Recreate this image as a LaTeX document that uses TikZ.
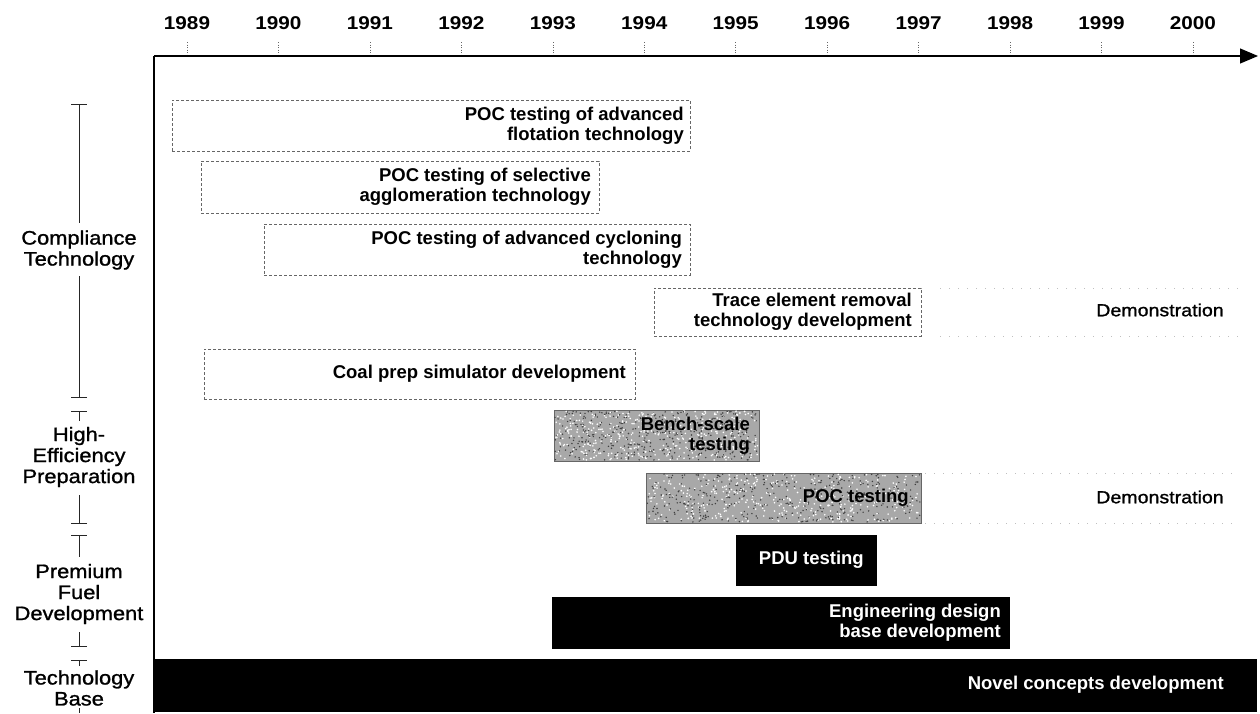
\documentclass[tikz,border=0pt]{standalone}
\usepackage{fontspec}
\setmainfont{Liberation Sans}
\newfontfamily\widefont[FakeStretch=1.12]{Liberation Sans}
\newfontfamily\widemedium[FakeStretch=1.12,FakeBold=1.2]{Liberation Sans}
\usetikzlibrary{arrows.meta}

% random grain inside a shaded bar: x0 y0 width height
\newcommand\grainfill[4]{%
  \foreach \k in {1,...,380}{%
    \fill[black!75] ({#1+#3*rnd},{#2+#4*rnd}) circle[radius=0.8];
    \fill[white] ({#1+#3*rnd},{#2+#4*rnd}) circle[radius=0.9];
  }}

\begin{document}
\begin{tikzpicture}[x=1pt,y=-1pt,
  outlinebar/.style={draw=black!60, line width=0.6pt, densely dashed, fill=white,
    anchor=north west, inner sep=0pt, outer sep=0pt},
  greybar/.style={draw=black!60, line width=0.6pt, fill=black!34,
    anchor=north west, inner sep=0pt, outer sep=0pt},
  blackbar/.style={draw=black, fill=black,
    anchor=north west, inner sep=0pt, outer sep=0pt},
  barlabel/.style={anchor=east, align=right, inner sep=0pt,
    font=\bfseries\fontsize{18.5}{20}\selectfont},
  yearlabel/.style={font=\widefont\bfseries\fontsize{18.5}{20}\selectfont, inner sep=0pt},
  grouplabel/.style={align=center, inner sep=0pt,
    font=\widemedium\fontsize{19.5}{21}\selectfont},
  demolabel/.style={inner sep=0pt, font=\widemedium\fontsize{17.5}{20}\selectfont},
  bracket/.style={line width=0.8pt, black!85},
  axis/.style={line width=1.1pt, black},
  tickmark/.style={line width=0.5pt, black!60, dotted},
  demoline/.style={line width=0.6pt, black!25, dash pattern=on 1pt off 8pt}]

\useasboundingbox (0,0) rectangle (1260,713);
\pgfmathsetseed{7}

% ---- time axis ----
\coordinate (origin) at (154,56);
\coordinate (xend) at (1258,56);
\coordinate (ybottom) at (154,713);
\foreach \yr [count=\i from 0] in {1989,...,2000}{
  \pgfmathsetmacro\xx{187+91.45*\i}
  \node[yearlabel] (year\yr) at (\xx,23) {\yr};
  \coordinate (tickT\yr) at (\xx,42);
  \coordinate (tickB\yr) at (\xx,56);
  \draw[tickmark] (tickT\yr) -- (tickB\yr);
}
\draw[axis, -{Triangle[length=18pt,width=15pt]}] (origin) -- (xend);
\draw[axis] (origin) -- (ybottom);

% ---- group labels with brackets ----
\node[grouplabel] (compliance) at (79,250) {Compliance\\Technology};
\coordinate (c1) at (79,104); \coordinate (c2) at (79,223);
\coordinate (c3) at (79,276); \coordinate (c4) at (79,398);
\draw[bracket, {Bar[width=16pt]}-] (c1) -- (c2);
\draw[bracket, -{Bar[width=16pt]}] (c3) -- (c4);

\node[grouplabel] (highEff) at (79,457) {High-\\Efficiency\\Preparation};
\coordinate (h1) at (79,411); \coordinate (h2) at (79,421);
\coordinate (h3) at (79,495); \coordinate (h4) at (79,524);
\draw[bracket, {Bar[width=16pt]}-] (h1) -- (h2);
\draw[bracket, -{Bar[width=16pt]}] (h3) -- (h4);

\node[grouplabel] (premium) at (79,594) {Premium\\Fuel\\Development};
\coordinate (p1) at (79,535); \coordinate (p2) at (79,557);
\coordinate (p3) at (79,632); \coordinate (p4) at (79,647);
\draw[bracket, {Bar[width=16pt]}-] (p1) -- (p2);
\draw[bracket, -{Bar[width=16pt]}] (p3) -- (p4);

\node[grouplabel] (techBase) at (79,688) {Technology\\Base};
\coordinate (t1) at (79,660); \coordinate (t2) at (79,666);
\coordinate (t3) at (79,708); \coordinate (t4) at (79,713);
\draw[bracket, {Bar[width=16pt]}-] (t1) -- (t2);
\draw[bracket] (t3) -- (t4);

% ---- compliance technology bars ----
\node[outlinebar, minimum width=518pt, minimum height=51pt] (flot) at (172,100) {};
\node[barlabel] (flotText) at ([xshift=-6pt]flot.east) {POC testing of advanced\\flotation technology};

\node[outlinebar, minimum width=398pt, minimum height=52pt] (aggl) at (201,161) {};
\node[barlabel] (agglText) at ([xshift=-8pt]aggl.east) {POC testing of selective\\agglomeration technology};

\node[outlinebar, minimum width=426pt, minimum height=51pt] (cycl) at (264,224) {};
\node[barlabel] (cyclText) at ([xshift=-8pt]cycl.east) {POC testing of advanced cycloning\\technology};

\node[outlinebar, minimum width=267pt, minimum height=48pt] (trace) at (654,288) {};
\node[barlabel] (traceText) at ([xshift=-9pt]trace.east) {Trace element removal\\technology development};

\node[outlinebar, minimum width=431pt, minimum height=50pt] (coal) at (204,349) {};
\node[barlabel] (coalText) at ([xshift=-9pt]coal.east) {Coal prep simulator development};

% demonstration phase after trace element work
\coordinate (d1a) at (940,288); \coordinate (d1b) at (1240,288);
\coordinate (d1c) at (940,336); \coordinate (d1d) at (1240,336);
\draw[demoline] (d1a) -- (d1b);
\draw[demoline] (d1c) -- (d1d);
\node[demolabel] (demo1) at (1160,310) {Demonstration};

% ---- high-efficiency preparation bars ----
\node[greybar, minimum width=205pt, minimum height=51pt] (bench) at (554,410) {};
\grainfill{555}{411}{203}{49}
\node[barlabel] (benchText) at ([xshift=-9pt]bench.east) {Bench-scale\\testing};

\node[greybar, minimum width=275pt, minimum height=50pt] (pocg) at (646,473) {};
\grainfill{647}{474}{273}{48}
\node[barlabel] (pocgText) at ([xshift=-12pt]pocg.east) {POC testing};

\coordinate (d2a) at (925,473); \coordinate (d2b) at (1232,473);
\coordinate (d2c) at (925,523); \coordinate (d2d) at (1232,523);
\draw[demoline] (d2a) -- (d2b);
\draw[demoline] (d2c) -- (d2d);
\node[demolabel] (demo2) at (1160,497) {Demonstration};

% ---- premium fuel development bars ----
\node[blackbar, minimum width=140pt, minimum height=50pt] (pdu) at (736,535) {};
\node[barlabel, text=white] (pduText) at ([xshift=-12pt]pdu.east) {PDU testing};

\node[blackbar, minimum width=457pt, minimum height=51pt] (eng) at (552,597) {};
\node[barlabel, text=white] (engText) at ([xshift=-8pt]eng.east) {Engineering design\\base development};

% ---- technology base ----
\node[blackbar, minimum width=1102pt, minimum height=52pt] (novel) at (154,659) {};
\node[barlabel, text=white] (novelText) at ([xshift=-32pt]novel.east) {Novel concepts development};

\end{tikzpicture}
\end{document}
